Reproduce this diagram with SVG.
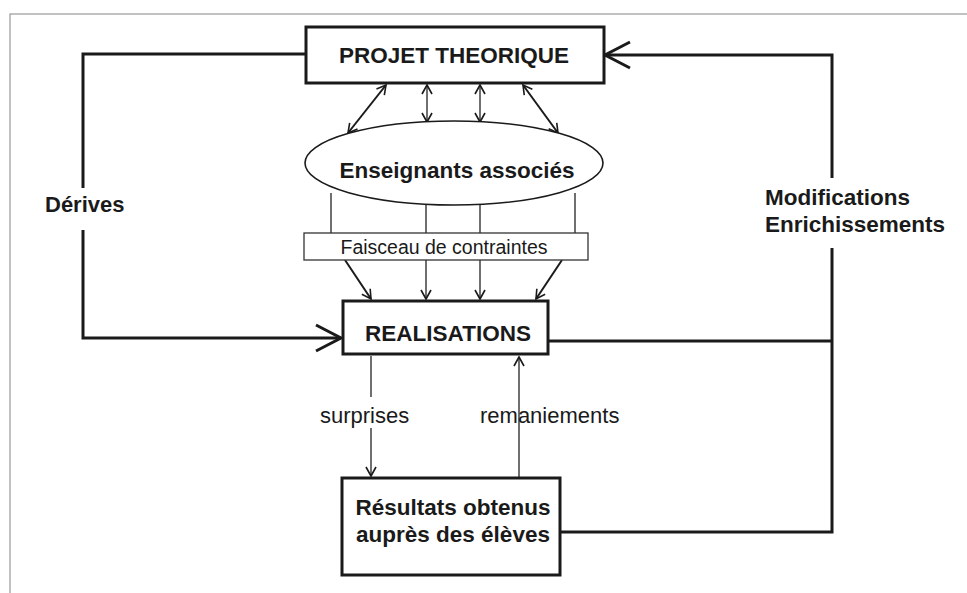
<svg xmlns="http://www.w3.org/2000/svg" width="967" height="593" viewBox="0 0 967 593">
<defs>
<style>
.box{fill:#fff;stroke:#1a1a1a;stroke-width:3}
.thinbox{fill:#fff;stroke:#333;stroke-width:1.3}
.thick{fill:none;stroke:#1a1a1a;stroke-width:3}
.thin{fill:none;stroke:#222;stroke-width:1.3}
.med{fill:none;stroke:#1a1a1a;stroke-width:2}
.lbl{font-family:"Liberation Sans",Arial,sans-serif;fill:#1a1a1a}
.b{font-weight:bold}
</style>
<marker id="bigV" markerWidth="32" markerHeight="32" refX="28" refY="16" orient="auto" markerUnits="userSpaceOnUse">
<path d="M3,3 L28,16 L3,29" fill="none" stroke="#1a1a1a" stroke-width="3"/>
</marker>
<marker id="smV" markerWidth="14" markerHeight="14" refX="11" refY="7" orient="auto-start-reverse" markerUnits="userSpaceOnUse">
<path d="M2,2 L11,7 L2,12" fill="none" stroke="#1a1a1a" stroke-width="1.6"/>
</marker>
</defs>
<rect x="0" y="0" width="967" height="593" fill="#fff"/>
<rect x="10" y="14" width="970" height="600" fill="none" stroke="#999" stroke-width="1.2"/>

<g id="connectors">
<!-- Dérives loop -->
<polyline class="thick" points="306,54 83,54 83,188"/>
<polyline class="thick" points="83,230 83,338 341,338" marker-end="url(#bigV)"/>
<!-- Modifications loop -->
<polyline class="thick" points="548,341 832,341"/>
<polyline class="thick" points="558,532 832,532 832,248"/>
<polyline class="thick" points="832,178 832,55 605,55" marker-end="url(#bigV)"/>
<!-- Projet <-> Enseignants -->
<line class="med" x1="386" y1="85" x2="348" y2="133" marker-start="url(#smV)" marker-end="url(#smV)"/>
<line class="thin" x1="427" y1="85" x2="427" y2="122" marker-start="url(#smV)" marker-end="url(#smV)"/>
<line class="thin" x1="480" y1="85" x2="480" y2="122" marker-start="url(#smV)" marker-end="url(#smV)"/>
<line class="med" x1="523" y1="85" x2="558" y2="133" marker-start="url(#smV)" marker-end="url(#smV)"/>
<!-- Enseignants to Faisceau -->
<line class="thin" x1="331" y1="193" x2="331" y2="233"/>
<line class="thin" x1="426" y1="205" x2="426" y2="233"/>
<line class="thin" x1="480" y1="205" x2="480" y2="233"/>
<line class="thin" x1="575" y1="193" x2="575" y2="233"/>
<!-- Faisceau to Realisations -->
<line class="med" x1="345" y1="260" x2="371" y2="299" marker-end="url(#smV)"/>
<line class="thin" x1="426" y1="260" x2="426" y2="299" marker-end="url(#smV)"/>
<line class="thin" x1="480" y1="260" x2="480" y2="299" marker-end="url(#smV)"/>
<line class="med" x1="562" y1="260" x2="536" y2="299" marker-end="url(#smV)"/>
<!-- surprises / remaniements -->
<line class="thin" x1="371" y1="356" x2="371" y2="397"/>
<line class="thin" x1="371" y1="428" x2="371" y2="476" marker-end="url(#smV)"/>
<line class="thin" x1="519" y1="477" x2="519" y2="357" marker-end="url(#smV)"/>
</g>

<g id="projet">
<rect class="box" x="306" y="27" width="298" height="56"/>
<text class="lbl b" x="454" y="63" font-size="22.5" text-anchor="middle">PROJET THEORIQUE</text>
</g>
<g id="enseignants">
<ellipse cx="454" cy="163" rx="149" ry="42" fill="#fff" stroke="#1a1a1a" stroke-width="1.6"/>
<text class="lbl b" x="457" y="178" font-size="22.5" text-anchor="middle">Enseignants associés</text>
</g>
<g id="faisceau">
<rect class="thinbox" x="304" y="233" width="284" height="27"/>
<text class="lbl" x="444" y="254" font-size="19.5" text-anchor="middle">Faisceau de contraintes</text>
</g>
<g id="realisations">
<rect class="box" x="343" y="301" width="205" height="53"/>
<text class="lbl b" x="448" y="341" font-size="22.5" text-anchor="middle">REALISATIONS</text>
</g>
<g id="resultats">
<rect class="box" x="342" y="478" width="218" height="97"/>
<text class="lbl b" x="453" y="515" font-size="22.5" text-anchor="middle">Résultats obtenus</text>
<text class="lbl b" x="453" y="542" font-size="22.5" text-anchor="middle">auprès des élèves</text>
</g>
<g id="labels">
<text class="lbl b" x="45" y="212" font-size="22">Dérives</text>
<text class="lbl b" x="765" y="205" font-size="22.5">Modifications</text>
<text class="lbl b" x="765" y="232" font-size="22.5">Enrichissements</text>
<text class="lbl" x="320" y="423" font-size="22">surprises</text>
<text class="lbl" x="480" y="423" font-size="22">remaniements</text>
</g>
</svg>
